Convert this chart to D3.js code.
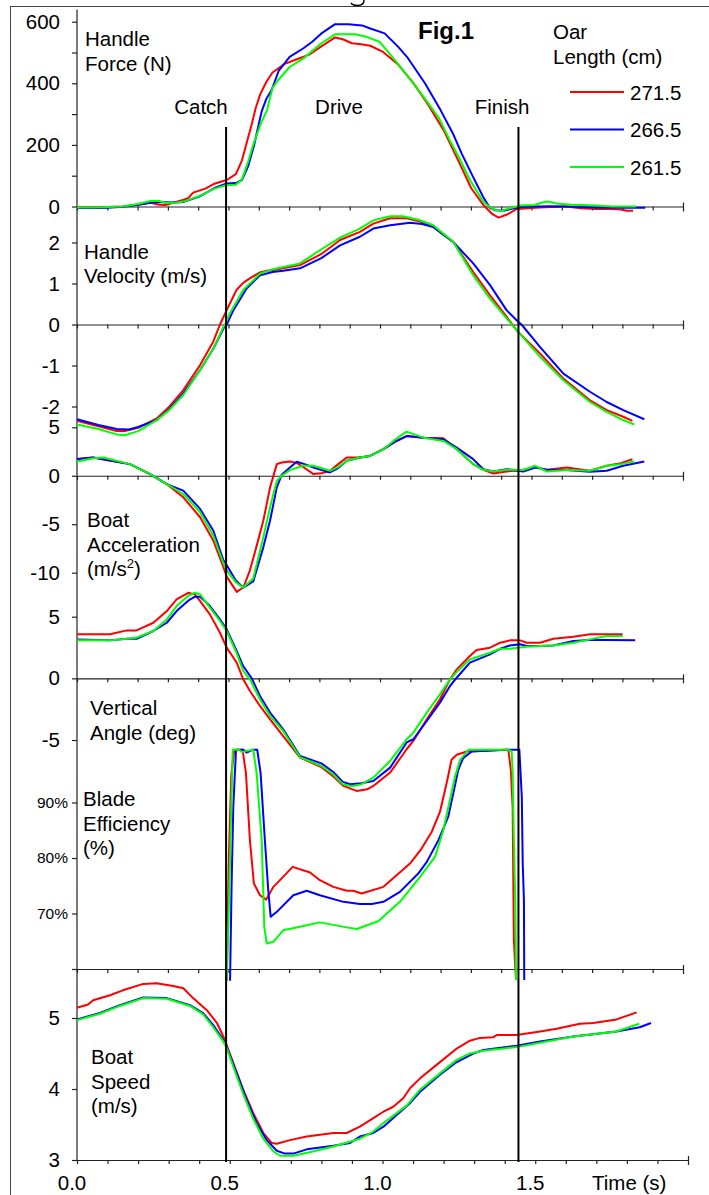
<!DOCTYPE html>
<html><head><meta charset="utf-8">
<script src="https://cdn.jsdelivr.net/npm/d3@7"></script>
<style>
html,body{margin:0;padding:0;background:#fff;}
svg{display:block;font-family:Arial,"Liberation Sans",sans-serif;}
</style></head><body>
<svg id="c" width="709" height="1195"></svg>
<script>
// ---------- DATA ----------
const seriesNames = ["271.5", "266.5", "261.5"];
const seriesColors = ["#ff0000", "#0000ff", "#00ff00"];
const phaseTimes = [0.488, 1.445];           // catch, finish (s)
const phaseLabels = ["Catch", "Drive", "Finish"];
const timeTickLabels = [0, 0.5, 1, 1.5];

// Handle force (N)
const forceRed = [[0,-3],[0.05,-3],[0.1,-2],[0.15,0],[0.2,6],[0.24,12],[0.27,6],[0.29,5],[0.32,14],[0.35,22],[0.365,28],[0.38,45],[0.42,58],[0.45,74],[0.49,86],[0.52,105],[0.54,150],[0.555,205],[0.57,260],[0.585,320],[0.6,365],[0.62,405],[0.64,435],[0.68,463],[0.72,478],[0.76,493],[0.8,520],[0.845,549],[0.87,543],[0.9,530],[0.93,527],[0.96,522],[1.0,503],[1.05,462],[1.1,402],[1.15,330],[1.2,248],[1.25,145],[1.29,60],[1.33,5],[1.36,-25],[1.38,-36],[1.41,-25],[1.44,-8],[1.5,-4],[1.55,-2],[1.6,0],[1.65,-6],[1.7,-8],[1.75,-8],[1.78,-10],[1.8,-14],[1.82,-14]];
const forceBlue = [[0,-5],[0.05,-5],[0.1,-4],[0.15,-1],[0.2,6],[0.25,14],[0.28,14],[0.32,13],[0.35,15],[0.4,32],[0.45,60],[0.49,75],[0.52,76],[0.54,86],[0.56,130],[0.58,200],[0.6,290],[0.606,313],[0.62,350],[0.637,378],[0.66,440],[0.696,486],[0.74,513],[0.77,535],[0.8,562],[0.845,592],[0.888,592],[0.933,588],[0.96,578],[1.007,562],[1.05,520],[1.08,486],[1.139,400],[1.19,313],[1.23,238],[1.26,170],[1.296,97],[1.33,30],[1.352,-5],[1.37,-12],[1.40,-13],[1.43,-6],[1.45,-2],[1.5,0],[1.55,1],[1.6,0],[1.65,-2],[1.7,-3],[1.8,-4],[1.86,-4]];
const forceGreen = [[0,-3],[0.05,-3],[0.1,-2],[0.15,0],[0.2,8],[0.24,18],[0.27,18],[0.29,11],[0.32,12],[0.35,16],[0.4,34],[0.45,58],[0.49,70],[0.52,71],[0.54,88],[0.56,145],[0.58,210],[0.6,265],[0.622,313],[0.64,385],[0.658,410],[0.696,453],[0.74,480],[0.8,530],[0.845,559],[0.91,559],[0.95,550],[0.99,535],[1.05,464],[1.126,367],[1.185,287],[1.22,215],[1.25,160],[1.286,86],[1.33,15],[1.36,-8],[1.385,-15],[1.42,-5],[1.45,3],[1.5,5],[1.52,12],[1.54,16],[1.57,10],[1.62,6],[1.7,3],[1.75,0],[1.83,0]];

// Handle velocity (m/s)
const velRed = [[0,-2.35],[0.07,-2.48],[0.13,-2.6],[0.157,-2.6],[0.2,-2.52],[0.261,-2.29],[0.3,-2.02],[0.348,-1.6],[0.403,-0.99],[0.446,-0.42],[0.468,0],[0.49,0.35],[0.522,0.84],[0.545,1.02],[0.567,1.13],[0.599,1.27],[0.621,1.31],[0.654,1.34],[0.73,1.45],[0.8,1.72],[0.861,2.06],[0.926,2.26],[0.97,2.46],[1.025,2.59],[1.079,2.59],[1.12,2.52],[1.166,2.38],[1.232,2.01],[1.297,1.28],[1.352,0.71],[1.406,0.19],[1.44,-0.15],[1.516,-0.71],[1.592,-1.32],[1.679,-1.85],[1.734,-2.09],[1.788,-2.25],[1.818,-2.35]];
const velBlue = [[0,-2.31],[0.07,-2.45],[0.13,-2.55],[0.17,-2.56],[0.2,-2.5],[0.261,-2.33],[0.3,-2.08],[0.348,-1.68],[0.403,-1.11],[0.446,-0.59],[0.48,-0.09],[0.49,0],[0.512,0.35],[0.555,0.88],[0.599,1.2],[0.64,1.28],[0.675,1.31],[0.73,1.37],[0.8,1.62],[0.861,1.93],[0.926,2.14],[0.97,2.34],[1.025,2.42],[1.09,2.48],[1.13,2.45],[1.166,2.38],[1.232,2.01],[1.297,1.49],[1.352,0.96],[1.406,0.35],[1.445,0.06],[1.455,0],[1.516,-0.55],[1.592,-1.2],[1.679,-1.64],[1.734,-1.89],[1.788,-2.09],[1.857,-2.31]];
const velGreen = [[0,-2.44],[0.07,-2.55],[0.13,-2.68],[0.157,-2.7],[0.2,-2.6],[0.261,-2.33],[0.3,-2.1],[0.348,-1.72],[0.403,-1.11],[0.446,-0.59],[0.479,-0.06],[0.485,0],[0.5,0.27],[0.544,0.84],[0.599,1.24],[0.642,1.35],[0.73,1.49],[0.795,1.81],[0.861,2.12],[0.926,2.34],[0.97,2.54],[1.025,2.64],[1.067,2.64],[1.12,2.55],[1.166,2.42],[1.232,2.01],[1.297,1.2],[1.352,0.63],[1.406,0.15],[1.435,-0.1],[1.516,-0.79],[1.592,-1.36],[1.679,-1.89],[1.734,-2.13],[1.788,-2.33],[1.824,-2.44]];

// Boat acceleration (m/s2)
const accRed = [[0,1.71],[0.053,1.88],[0.1,1.6],[0.173,1.2],[0.239,0.17],[0.294,-0.86],[0.348,-2.22],[0.403,-4.28],[0.446,-6.67],[0.479,-9.41],[0.49,-10.4],[0.523,-11.98],[0.545,-11.5],[0.566,-9.75],[0.59,-7.0],[0.61,-4.62],[0.632,-1.2],[0.654,1.2],[0.67,1.37],[0.697,1.47],[0.719,1.33],[0.745,0.8],[0.774,0.17],[0.8,0.25],[0.828,0.51],[0.855,1.2],[0.883,1.88],[0.926,1.88],[0.959,2.05],[1.003,2.74],[1.04,3.5],[1.079,4.1],[1.134,3.93],[1.199,3.87],[1.243,2.74],[1.297,1.2],[1.33,0.61],[1.363,0.24],[1.406,0.44],[1.461,0.6],[1.5,0.92],[1.538,0.61],[1.603,0.85],[1.679,0.51],[1.734,1.03],[1.78,1.3],[1.818,1.71]];
const accBlue = [[0,1.74],[0.053,1.88],[0.086,1.71],[0.173,1.2],[0.239,0.17],[0.294,-0.86],[0.348,-1.54],[0.403,-3.42],[0.446,-5.65],[0.479,-8.7],[0.49,-9.24],[0.52,-10.8],[0.544,-11.53],[0.577,-10.9],[0.61,-7.36],[0.632,-4.62],[0.654,-1.2],[0.67,0.1],[0.697,0.85],[0.719,1.44],[0.745,1.2],[0.774,0.85],[0.828,0.34],[0.855,0.8],[0.883,1.54],[0.926,1.88],[0.959,2.05],[1.003,2.74],[1.04,3.5],[1.079,4.1],[1.134,3.93],[1.199,3.76],[1.243,2.91],[1.297,1.71],[1.33,0.68],[1.363,0.44],[1.406,0.68],[1.461,0.44],[1.5,0.85],[1.538,0.61],[1.603,0.6],[1.679,0.41],[1.734,0.51],[1.788,1.03],[1.857,1.47]];
const accGreen = [[0,1.47],[0.053,1.8],[0.086,1.88],[0.173,1.2],[0.239,0.17],[0.294,-0.86],[0.348,-1.88],[0.403,-3.76],[0.446,-6.16],[0.479,-9.0],[0.49,-9.75],[0.52,-11.0],[0.544,-11.53],[0.577,-10.6],[0.61,-6.33],[0.632,-3.25],[0.654,-0.51],[0.67,0],[0.697,0.58],[0.74,1.03],[0.774,1.03],[0.828,0.51],[0.855,0.9],[0.883,1.54],[0.926,1.88],[0.959,2.05],[1.003,2.74],[1.04,3.7],[1.079,4.55],[1.134,3.93],[1.199,3.59],[1.243,2.74],[1.297,1.2],[1.33,0.61],[1.363,0.44],[1.406,0.61],[1.461,0.6],[1.5,1.03],[1.538,0.44],[1.603,0.6],[1.679,0.51],[1.734,1.03],[1.78,1.2],[1.824,1.47]];

// Vertical angle (deg)
const angRed = [[0,3.57],[0.108,3.57],[0.163,3.89],[0.195,3.89],[0.25,4.51],[0.294,5.46],[0.326,6.4],[0.364,6.94],[0.386,6.81],[0.403,6.27],[0.435,5.19],[0.468,3.7],[0.49,2.49],[0.523,1.27],[0.544,-0.08],[0.566,-1.03],[0.599,-2.24],[0.632,-3.32],[0.675,-4.68],[0.73,-6.43],[0.8,-7.2],[0.839,-7.95],[0.87,-8.7],[0.915,-9.13],[0.95,-9.0],[0.97,-8.73],[1.025,-7.64],[1.079,-5.75],[1.101,-5.08],[1.145,-3.32],[1.188,-1.7],[1.221,-0.08],[1.243,0.73],[1.286,1.81],[1.308,2.3],[1.352,2.49],[1.385,2.89],[1.417,3.08],[1.45,3.08],[1.472,2.89],[1.516,2.89],[1.559,3.21],[1.625,3.38],[1.679,3.57],[1.786,3.57]];
const angBlue = [[0,3.16],[0.108,3.08],[0.163,3.21],[0.195,3.21],[0.25,3.84],[0.294,4.51],[0.326,5.46],[0.364,6.3],[0.386,6.62],[0.403,6.62],[0.435,5.86],[0.468,4.78],[0.49,3.97],[0.523,2.21],[0.544,1.0],[0.572,0],[0.599,-1.43],[0.632,-2.78],[0.675,-4.13],[0.73,-6.3],[0.8,-6.9],[0.839,-7.6],[0.87,-8.4],[0.894,-8.59],[0.93,-8.5],[0.97,-8.32],[1.025,-7.24],[1.079,-5.2],[1.101,-4.94],[1.145,-3.46],[1.188,-1.97],[1.221,-0.62],[1.243,0.05],[1.286,1.27],[1.352,1.95],[1.385,2.4],[1.417,2.67],[1.45,2.76],[1.472,2.62],[1.516,2.62],[1.559,2.67],[1.625,3.03],[1.679,3.11],[1.734,3.11],[1.827,3.08]];
const angGreen = [[0,3.08],[0.108,3.08],[0.163,3.21],[0.195,3.3],[0.25,3.84],[0.294,4.78],[0.326,5.86],[0.364,6.7],[0.386,6.94],[0.403,6.81],[0.435,5.73],[0.468,4.65],[0.49,3.84],[0.523,2.03],[0.544,0.6],[0.566,-0.08],[0.599,-1.7],[0.632,-3.05],[0.675,-4.27],[0.73,-6.4],[0.8,-7.1],[0.839,-7.8],[0.87,-8.6],[0.9,-8.75],[0.93,-8.6],[0.97,-8.05],[1.025,-6.7],[1.079,-4.94],[1.101,-4.4],[1.145,-2.78],[1.188,-1.3],[1.221,-0.08],[1.243,0.53],[1.286,1.54],[1.352,2.08],[1.385,2.4],[1.417,2.4],[1.45,2.51],[1.472,2.57],[1.516,2.62],[1.559,2.67],[1.625,2.89],[1.679,3.16],[1.734,3.43],[1.786,3.43]];

// Blade efficiency (%)
const bladeRed = [[0.49,57.9],[0.497,80],[0.505,95],[0.515,99.5],[0.542,99.5],[0.553,95.3],[0.566,83.2],[0.579,75.4],[0.599,73.3],[0.619,72.5],[0.643,74.8],[0.706,78.4],[0.763,77.4],[0.795,76.0],[0.839,74.8],[0.883,74.1],[0.904,74.1],[0.932,73.6],[1.003,74.8],[1.046,76.9],[1.09,79.0],[1.128,81.7],[1.161,84.7],[1.188,88.3],[1.21,93.5],[1.226,97.7],[1.243,98.6],[1.276,99.2],[1.395,99.5],[1.412,99.5],[1.42,95.9],[1.426,89.2],[1.43,65.2],[1.437,58.0]];
const bladeBlue = [[0.501,57.9],[0.506,75],[0.5116,89.2],[0.5205,99.5],[0.545,99.5],[0.555,99.0],[0.575,99.5],[0.59,99.5],[0.601,95.3],[0.615,83.2],[0.626,74.2],[0.634,69.4],[0.654,70.3],[0.708,73.3],[0.752,74.1],[0.795,73.3],[0.872,72.1],[0.926,71.7],[0.965,71.7],[1.003,72.1],[1.057,73.9],[1.117,77.2],[1.145,79.3],[1.183,83.2],[1.215,87.4],[1.232,91.7],[1.248,95.9],[1.264,98.0],[1.292,99.2],[1.41,99.5],[1.448,99.5],[1.456,91.0],[1.459,79.0],[1.463,72.4],[1.464,58.0]];
const bladeGreen = [[0.49,57.9],[0.4985,74.2],[0.5097,99.5],[0.53,99.5],[0.54,99.1],[0.555,99.3],[0.577,99.5],[0.588,95.3],[0.6046,83.2],[0.613,67.6],[0.621,64.6],[0.643,64.9],[0.675,67.0],[0.73,67.6],[0.795,68.4],[0.883,67.5],[0.916,67.2],[0.986,68.6],[1.057,72.1],[1.123,76.6],[1.172,80.2],[1.199,85.0],[1.221,90.5],[1.237,94.6],[1.254,97.7],[1.281,99.5],[1.412,99.5],[1.423,99.2],[1.426,95.3],[1.43,83.2],[1.435,71.2],[1.437,58.0]];

// Boat speed (m/s)
const speedRed = [[0,5.145],[0.036,5.19],[0.053,5.25],[0.108,5.32],[0.15,5.39],[0.217,5.48],[0.26,5.49],[0.315,5.45],[0.348,5.42],[0.38,5.28],[0.425,5.11],[0.458,4.93],[0.479,4.74],[0.49,4.62],[0.512,4.36],[0.544,3.99],[0.577,3.66],[0.61,3.38],[0.637,3.24],[0.654,3.23],[0.697,3.28],[0.752,3.33],[0.839,3.38],[0.883,3.38],[0.926,3.47],[0.97,3.59],[1.003,3.68],[1.035,3.75],[1.068,3.87],[1.09,4.01],[1.123,4.15],[1.177,4.34],[1.243,4.57],[1.286,4.68],[1.319,4.72],[1.363,4.73],[1.374,4.76],[1.439,4.76],[1.516,4.81],[1.57,4.85],[1.646,4.92],[1.69,4.93],[1.766,4.98],[1.832,5.08]];
const speedBlue = [[0,4.98],[0.075,5.07],[0.14,5.18],[0.217,5.29],[0.294,5.28],[0.37,5.18],[0.413,5.07],[0.446,4.9],[0.479,4.69],[0.49,4.59],[0.523,4.22],[0.555,3.85],[0.588,3.52],[0.621,3.28],[0.654,3.13],[0.68,3.09],[0.708,3.09],[0.752,3.15],[0.839,3.2],[0.894,3.24],[0.926,3.33],[0.97,3.38],[1.003,3.47],[1.09,3.8],[1.123,3.96],[1.188,4.2],[1.243,4.38],[1.297,4.5],[1.33,4.55],[1.439,4.61],[1.516,4.67],[1.625,4.74],[1.766,4.81],[1.842,4.87],[1.879,4.93]];
const speedGreen = [[0,4.97],[0.075,5.06],[0.14,5.17],[0.217,5.28],[0.294,5.27],[0.37,5.17],[0.413,5.05],[0.446,4.87],[0.479,4.67],[0.49,4.58],[0.512,4.31],[0.544,3.93],[0.577,3.58],[0.61,3.3],[0.643,3.12],[0.665,3.06],[0.708,3.06],[0.772,3.12],[0.839,3.19],[0.926,3.3],[0.97,3.4],[1.003,3.52],[1.08,3.77],[1.123,3.99],[1.188,4.22],[1.243,4.41],[1.286,4.5],[1.33,4.54],[1.439,4.59],[1.516,4.65],[1.625,4.74],[1.766,4.81],[1.84,4.92]];

// ---------- DRAW ----------
const svg = d3.select("#c");
svg.append("rect").attr("width",709).attr("height",1195).attr("fill","#fff");
svg.append("rect").attr("x",10.5).attr("y",6.5).attr("width",740).attr("height",1220)
  .attr("fill","none").attr("stroke","#444").attr("stroke-width",1);
// fragment of a caption glyph cut by the top edge
svg.append("path").attr("d","M364,0 C364,4 361,5.5 357.5,5.5 C354,5.5 352,4.5 351,3")
  .attr("fill","none").attr("stroke","#000").attr("stroke-width",1.4);

const x = d3.scaleLinear().domain([0,2]).range([77,688]);
const xUpper = d3.scaleLinear().domain([0,2]).range([77,683]);
const FS = 20.5;

const panels = [
  {y:d3.scaleLinear().domain([0,600]).range([206.5,21.7]), ticks:[0,100,200,300,400,500,600], labels:[0,200,400,600],
   fmt:d=>d, base:0, xa:xUpper, series:[forceRed,forceBlue,forceGreen], title:["Handle","Force (N)"], tx:85, ty:46},
  {y:d3.scaleLinear().domain([-2,2]).range([406.5,242.5]), ticks:[-2,-1,0,1,2], labels:[-2,-1,0,1,2],
   fmt:d=>d, base:0, xa:xUpper, series:[velRed,velBlue,velGreen], title:["Handle","Velocity (m/s)"], tx:84, ty:258.5},
  {y:d3.scaleLinear().domain([-10,5]).range([572.7,427.3]), ticks:[-10,-5,0,5], labels:[-10,-5,0,5],
   fmt:d=>d, base:0, xa:xUpper, series:[accRed,accBlue,accGreen], title:["Boat","Acceleration","(m/s²)"], tx:87, ty:527},
  {y:d3.scaleLinear().domain([-5,5]).range([740,616.7]), ticks:[-5,0,5], labels:[-5,0,5],
   fmt:d=>d, base:0, xa:xUpper, series:[angRed,angBlue,angGreen], title:["Vertical","Angle (deg)"], tx:90, ty:715},
  {y:d3.scaleLinear().domain([60,90]).range([969,802.5]), ticks:[60,70,80,90], labels:[70,80,90],
   fmt:d=>d+"%", base:60, xa:xUpper, series:[bladeRed,bladeBlue,bladeGreen], title:["Blade","Efficiency","(%)"], tx:83, ty:806, pct:true},
  {y:d3.scaleLinear().domain([3,5]).range([1160,1018]), ticks:[3,4,5], labels:[3,4,5],
   fmt:d=>d, base:3, xa:x, series:[speedRed,speedBlue,speedGreen], title:["Boat","Speed","(m/s)"], tx:91, ty:1064}
];

// continuous y-axis line
svg.append("line").attr("x1",77).attr("x2",77)
  .attr("y1",panels[0].y(640)).attr("y2",panels[5].y(3))
  .attr("stroke","#222").attr("stroke-width",1.2);

const line = d3.line();

panels.forEach((p,pi)=>{
  const g = svg.append("g");
  const ya = g.append("g").attr("transform","translate(77,0)")
    .call(d3.axisLeft(p.y).tickValues(p.ticks).tickSize(5).tickSizeOuter(0)
      .tickPadding(p.pct?4:12)
      .tickFormat(d=>p.labels.includes(d)?p.fmt(d):""));
  ya.select(".domain").remove();
  ya.selectAll("line").attr("stroke","#222").attr("stroke-width",1.2);
  ya.selectAll("text").attr("font-size",p.pct?15.5:FS).attr("fill","#000")
    .attr("font-family","Arial,'Liberation Sans',sans-serif");
  const xa = g.append("g").attr("transform",`translate(0,${p.y(p.base)})`)
    .call(d3.axisBottom(p.xa).tickValues(d3.range(0,21).map(i=>i/10)).tickSize(4).tickSizeOuter(0).tickFormat(""));
  xa.select(".domain").attr("stroke","#222").attr("stroke-width",1.2);
  xa.selectAll(".tick line").attr("stroke","#222").attr("stroke-width",1.2);
  xa.selectAll(".tick").filter(d=>d===2).select("line").attr("y1",-4).attr("y2",5);
  const t = g.append("text").attr("font-size",FS).attr("fill","#000");
  p.title.forEach((s,i)=>{
    const ts = t.append("tspan").attr("x",p.tx).attr("y",p.ty+i*24.5);
    if(s.includes("²")){
      ts.text("(m/s");
      t.append("tspan").attr("font-size",13).attr("dy",-8).text("2");
      t.append("tspan").attr("dy",8).text(")");
    } else ts.text(s);
  });
});

// data lines
panels.forEach(p=>{
  p.series.forEach((s,si)=>{
    svg.append("path").datum(s)
      .attr("d", line.x(d=>x(d[0])).y(d=>p.y(d[1])))
      .attr("fill","none").attr("stroke",seriesColors[si]).attr("stroke-width",2)
      .attr("stroke-linejoin","round");
  });
});

// catch / finish lines
phaseTimes.forEach(tv=>{
  svg.append("line").attr("x1",x(tv)).attr("x2",x(tv))
    .attr("y1",127).attr("y2",panels[5].y(3)+2)
    .attr("stroke","#000").attr("stroke-width",2);
});
const phaseX = [201, 339, 502];
phaseLabels.forEach((s,i)=>{
  svg.append("text").attr("x",phaseX[i]).attr("y",114).attr("text-anchor","middle")
    .attr("font-size",FS).text(s);
});

// time labels
timeTickLabels.forEach(v=>{
  svg.append("text").attr("x",x(v)-5).attr("y",1190).attr("text-anchor","middle")
    .attr("font-size",FS).text(d3.format(".1f")(v));
});
svg.append("text").attr("x",592).attr("y",1190).attr("font-size",FS).text("Time (s)");

// title and legend
svg.append("text").attr("x",418).attr("y",39).attr("font-size",24).attr("font-weight","bold").text("Fig.1");
svg.append("text").attr("x",553).attr("y",38.5).attr("font-size",FS).text("Oar");
svg.append("text").attr("x",553).attr("y",64).attr("font-size",FS).text("Length (cm)");
seriesNames.forEach((n,i)=>{
  const ly = 92 + i*37.5;
  svg.append("line").attr("x1",570).attr("x2",624).attr("y1",ly).attr("y2",ly)
    .attr("stroke",seriesColors[i]).attr("stroke-width",2);
  svg.append("text").attr("x",630).attr("y",ly+7.5).attr("font-size",FS).text(n);
});
</script>
</body></html>
